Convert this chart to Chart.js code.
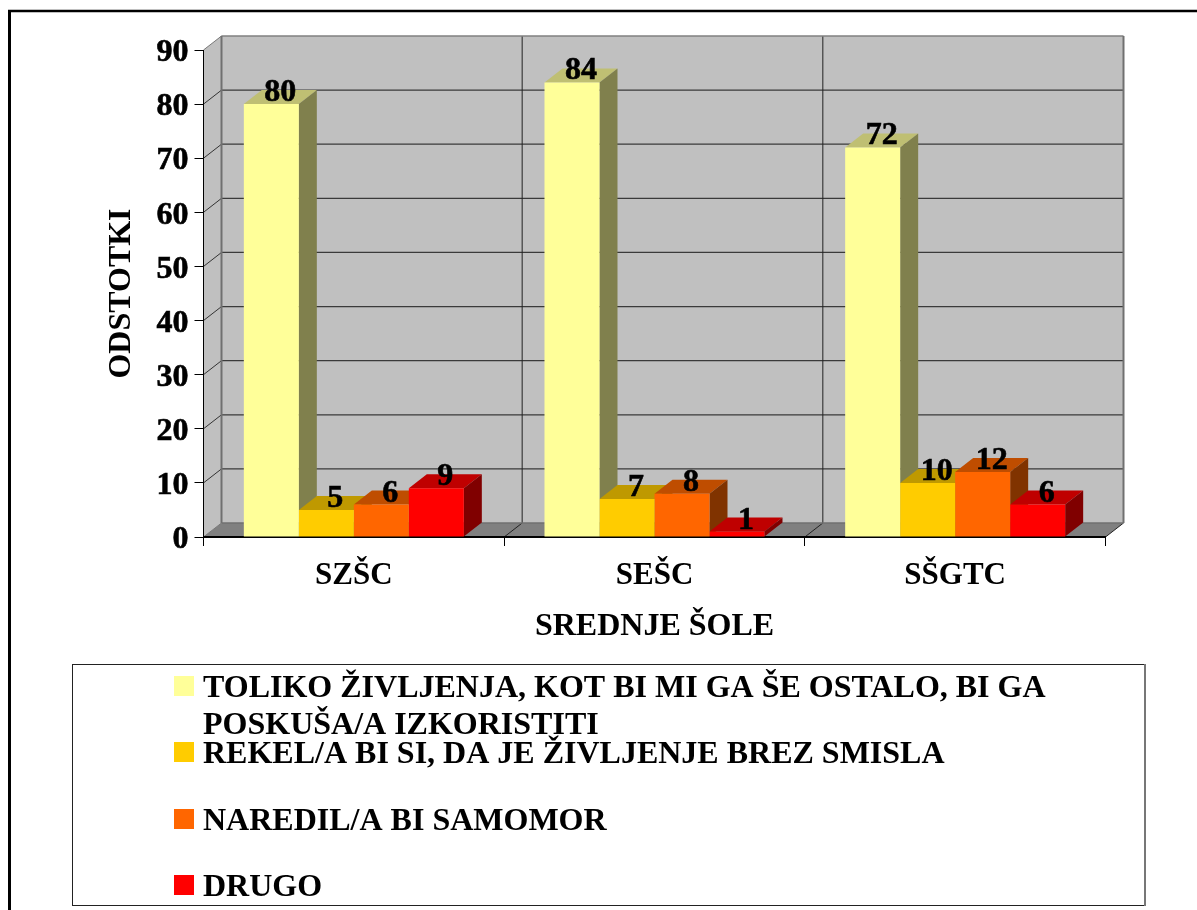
<!DOCTYPE html>
<html><head><meta charset="utf-8">
<style>html,body{margin:0;padding:0;background:#fff;overflow:hidden}canvas{display:block}</style>
<script src="https://cdn.jsdelivr.net/npm/chart.js@4"></script>
</head><body><canvas id="c" width="1197" height="910"></canvas>
<script>
const categories = ['SZŠC', 'SEŠC', 'SŠGTC'];
const seriesNames = [
  'TOLIKO ŽIVLJENJA, KOT BI MI GA ŠE OSTALO, BI GA POSKUŠA/A IZKORISTITI',
  'REKEL/A BI SI, DA JE ŽIVLJENJE BREZ SMISLA',
  'NAREDIL/A BI SAMOMOR',
  'DRUGO'
];
const toliko = [80, 84, 72];
const rekel = [5, 7, 10];
const naredil = [6, 8, 12];
const drugo = [9, 1, 6];
const frontColors = ['#ffff99', '#ffcc00', '#ff6600', '#ff0000'];
const topColors = ['#bfbf73', '#bf9900', '#bf4d00', '#bf0000'];
const sideColors = ['#80804d', '#806600', '#803300', '#800000'];
const legendLines = [
  ['TOLIKO ŽIVLJENJA, KOT BI MI GA ŠE OSTALO, BI GA', 'POSKUŠA/A IZKORISTITI'],
  ['REKEL/A BI SI, DA JE ŽIVLJENJE BREZ SMISLA'],
  ['NAREDIL/A BI SAMOMOR'],
  ['DRUGO']
];
const FONT = '"Liberation Serif"';
const DX = 18, DY = 14;

function poly(ctx, pts, fill) {
  ctx.beginPath();
  pts.forEach((p, i) => i ? ctx.lineTo(p[0], p[1]) : ctx.moveTo(p[0], p[1]));
  ctx.closePath();
  ctx.fillStyle = fill;
  ctx.fill();
}
function line(ctx, x1, y1, x2, y2, color, w) {
  ctx.beginPath(); ctx.moveTo(x1, y1); ctx.lineTo(x2, y2);
  ctx.strokeStyle = color; ctx.lineWidth = w; ctx.stroke();
}

const pseudo3d = {
  id: 'pseudo3d',
  beforeDraw(chart) {
    const ctx = chart.ctx, a = chart.chartArea, y = chart.scales.y;
    ctx.save();
    // frame of the page
    line(ctx, 9.5, 11, 9.5, 910, '#000', 3);
    line(ctx, 8, 11, 1197, 11, '#000', 2.5);
    // walls and floor
    poly(ctx, [[a.left + DX, a.top - DY], [a.right + DX, a.top - DY], [a.right + DX, a.bottom - DY], [a.left + DX, a.bottom - DY]], '#c0c0c0');
    poly(ctx, [[a.left, a.top], [a.left + DX, a.top - DY], [a.left + DX, a.bottom - DY], [a.left, a.bottom]], '#c0c0c0');
    poly(ctx, [[a.left, a.bottom], [a.left + DX, a.bottom - DY], [a.right + DX, a.bottom - DY], [a.right, a.bottom]], '#808080');
    y.ticks.forEach((t) => {
      const py = y.getPixelForValue(t.value);
      if (t.value > 0 && t.value < 90) line(ctx, a.left + DX, py - DY, a.right + DX, py - DY, '#3a3a3a', 1.2);
      line(ctx, a.left, py, a.left + DX, py - DY, t.value === 90 || t.value === 0 ? '#777' : '#333', 1);
    });
    const catW = (a.right - a.left) / categories.length;
    for (let i = 1; i < categories.length; i++) {
      const px = a.left + catW * i;
      line(ctx, px + DX, a.top - DY, px + DX, a.bottom - DY, '#222', 1);
      line(ctx, px, a.bottom, px + DX, a.bottom - DY, '#222', 1);
    }
    line(ctx, a.right, a.bottom, a.right + DX, a.bottom - DY, '#222', 1);
    line(ctx, a.left + DX, a.top - DY, a.right + DX, a.top - DY, '#808080', 1.5);
    line(ctx, a.left + DX, a.top - DY, a.left + DX, a.bottom - DY, '#707070', 2);
    line(ctx, a.right + DX, a.top - DY, a.right + DX, a.bottom - DY, '#707070', 2);
    line(ctx, a.left + DX, a.bottom - DY, a.right + DX, a.bottom - DY, '#707070', 1.5);
    ctx.restore();
  },
  beforeDatasetsDraw(chart) {
    const ctx = chart.ctx;
    ctx.save();
    chart.data.labels.forEach((_, ci) => {
      chart.data.datasets.forEach((ds, si) => {
        const b = chart.getDatasetMeta(si).data[ci];
        const l = b.x - b.width / 2, r = b.x + b.width / 2;
        poly(ctx, [[l, b.y], [l + DX, b.y - DY], [r + DX, b.y - DY], [r, b.y]], topColors[si]);
        poly(ctx, [[r, b.y], [r + DX, b.y - DY], [r + DX, b.base - DY], [r, b.base]], sideColors[si]);
      });
    });
    ctx.restore();
  },
  afterDatasetsDraw(chart) {
    const ctx = chart.ctx;
    ctx.save();
    ctx.fillStyle = '#000';
    ctx.strokeStyle = '#000';
    ctx.lineWidth = 0.6;
    ctx.font = 'bold 32px ' + FONT;
    ctx.textAlign = 'center';
    ctx.textBaseline = 'alphabetic';
    chart.data.datasets.forEach((ds, si) => {
      chart.getDatasetMeta(si).data.forEach((b, i) => {
        const s = String(ds.data[i]);
        ctx.fillText(s, b.x + 9, b.y - 3);
        ctx.strokeText(s, b.x + 9, b.y - 3);
      });
    });
    ctx.restore();
  },
  afterDraw(chart) {
    const ctx = chart.ctx;
    ctx.save();
    ctx.strokeStyle = '#222';
    ctx.lineWidth = 1;
    ctx.strokeRect(72.5, 664.5, 1072, 241);
    line(ctx, 1145, 664, 1145, 906, '#777', 2);
    const swatchY = [676, 742, 809, 875];
    ctx.font = 'bold 32px ' + FONT;
    ctx.textBaseline = 'alphabetic';
    ctx.textAlign = 'left';
    legendLines.forEach((lines, i) => {
      ctx.fillStyle = frontColors[i];
      ctx.fillRect(174, swatchY[i], 20, 20);
      ctx.fillStyle = '#000';
      lines.forEach((t, j) => ctx.fillText(t, 203, swatchY[i] + 21 + j * 37));
    });
    ctx.restore();
  }
};

const seriesValues = [toliko, rekel, naredil, drugo];
new Chart(document.getElementById('c'), {
  type: 'bar',
  data: {
    labels: categories,
    datasets: seriesValues.map((vals, i) => ({
      label: seriesNames[i],
      data: vals,
      backgroundColor: frontColors[i],
      borderWidth: 0,
      categoryPercentage: 220 / 300.67,
      barPercentage: 1
    }))
  },
  options: {
    responsive: false,
    animation: false,
    layout: { padding: { top: 50, right: 91.5, left: 0, bottom: 0 } },
    plugins: { legend: { display: false }, title: { display: false }, tooltip: { enabled: false } },
    scales: {
      x: {
        offset: true,
        afterFit(s) { s.height = 373; },
        grid: { offset: true, drawOnChartArea: false, tickLength: 9, color: '#000', tickColor: '#000' },
        border: { color: '#000', width: 2 },
        ticks: { color: '#000', font: { family: FONT, weight: 'bold', size: 31 }, padding: 11, maxRotation: 0 },
        title: { display: true, text: 'SREDNJE ŠOLE', color: '#000', font: { family: FONT, weight: 'bold', size: 32 }, padding: { top: 0, bottom: 264 } }
      },
      y: {
        min: 0, max: 90,
        afterFit(s) { s.width = 203.5; },
        grid: { drawOnChartArea: false, tickLength: 9, color: '#000', tickColor: '#000' },
        border: { color: '#000', width: 1 },
        ticks: { stepSize: 10, color: '#000', font: { family: FONT, weight: 'bold', size: 32 }, padding: 6, labelOffset: 3, textStrokeColor: '#000', textStrokeWidth: 0.6 },
        title: { display: true, text: 'ODSTOTKI', color: '#000', font: { family: FONT, weight: 'bold', size: 32 }, padding: { top: 103, bottom: 0 } }
      }
    }
  },
  plugins: [pseudo3d]
});
</script></body></html>
